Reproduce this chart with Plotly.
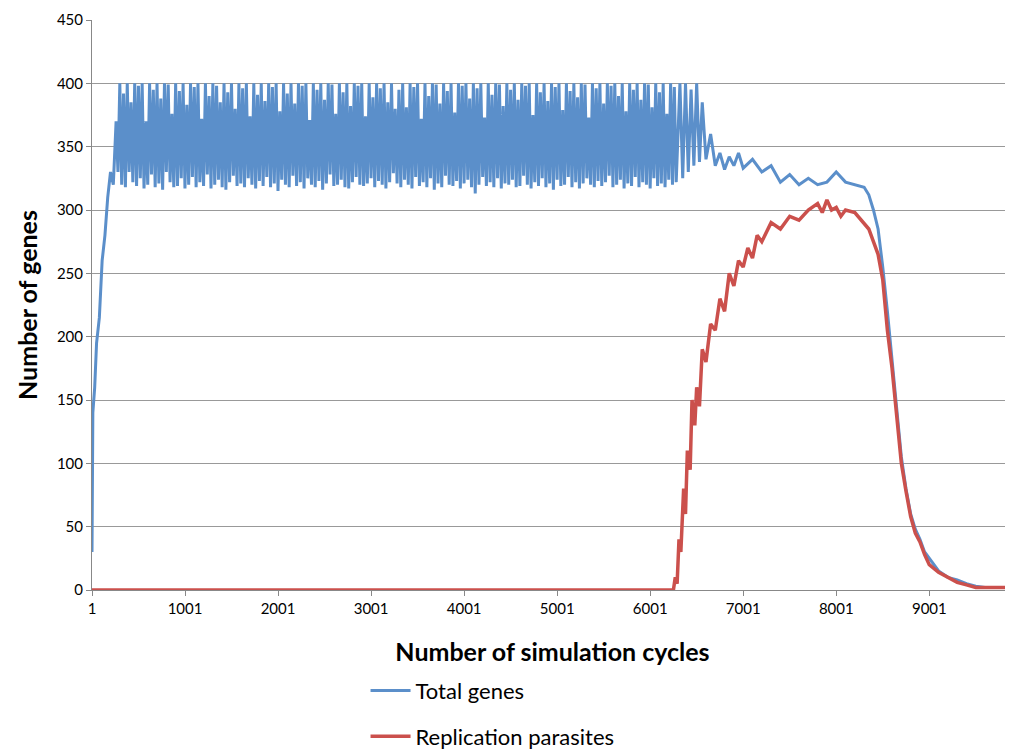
import plotly.graph_objects as go

# ramp up of total genes
rise_x = [1, 10, 30, 50, 80, 110, 140, 170, 200, 230, 260, 280]
rise_y = [30, 140, 160, 195, 215, 260, 280, 310, 330, 320, 370, 330]

# oscillating plateau, read every 20 cycles starting at 300
osc_a = [
    400, 320, 392, 318, 400, 330, 385, 322, 400, 319,
    398, 325, 400, 317, 370, 320, 400, 328, 395, 318,
    400, 321, 388, 316, 400, 330, 399, 322, 376, 318,
    400, 319, 394, 325, 400, 317, 383, 320, 400, 326,
    397, 318, 400, 322, 372, 319, 400, 328, 390, 317,
    400, 320, 398, 324, 385, 318, 400, 316, 393, 322,
    400, 327, 380, 319, 400, 321, 396, 318, 400, 325,
    374, 320, 400, 317, 391, 323, 400, 319, 386, 326,
    400, 318, 397, 321, 400, 315, 378, 324, 400, 320,
    392, 318, 400, 327, 384, 319, 400, 322, 398, 317,
    400, 325, 371, 320, 400, 318, 395, 323, 400, 316,
    387, 321, 400, 328, 399, 319, 376, 320, 400, 324,
    393, 318, 400, 317, 382, 322, 400, 326, 398, 320,
    400, 319, 374, 321, 400, 325, 389, 318, 400, 323,
    396, 320, 400, 317, 385, 322, 400, 329, 380, 321,
]
osc_b = [
    395, 318, 400, 324, 381, 320, 400, 317, 397, 326,
    400, 319, 372, 322, 400, 318, 390, 325, 400, 316,
    399, 321, 384, 318, 400, 327, 394, 320, 400, 319,
    377, 323, 400, 317, 398, 321, 400, 324, 388, 318,
    400, 313, 396, 320, 400, 326, 373, 319, 400, 322,
    391, 318, 400, 325, 399, 317, 382, 321, 400, 320,
    395, 324, 400, 318, 387, 319, 400, 327, 398, 320,
    400, 317, 375, 322, 400, 319, 393, 325, 400, 318,
    386, 321, 400, 316, 397, 324, 400, 319, 379, 320,
    400, 326, 394, 318, 400, 322, 389, 317, 400, 321,
    399, 325, 373, 320, 400, 318, 396, 323, 400, 319,
    384, 322, 400, 327, 398, 318, 400, 320, 390, 324,
    400, 317, 378, 321, 400, 319, 395, 326, 400, 318,
    387, 322, 400, 320, 399, 317, 381, 325, 400, 319,
    393, 321, 400, 318, 376, 324, 400, 320, 397, 322,
]
osc_y = osc_a + osc_b
osc_x = list(range(300, 300 + 20 * len(osc_y), 20))

# decline of total genes
fall_x = [6320, 6350, 6380, 6410, 6440, 6470, 6500, 6530, 6560, 6600, 6650, 6700,
          6750, 6800, 6850, 6900, 6950, 7000, 7100, 7200, 7300, 7400, 7500, 7600,
          7700, 7800, 7900, 8000, 8100, 8200, 8300, 8350, 8400, 8450, 8500, 8550,
          8600, 8650, 8700, 8750, 8800, 8850, 8900, 8950, 9000, 9100, 9200, 9300,
          9400, 9500, 9600, 9900]
fall_y = [400, 325, 400, 330, 395, 335, 400, 338, 385, 340, 360, 335,
          345, 332, 342, 335, 345, 333, 340, 330, 335, 322, 328, 320,
          325, 320, 322, 330, 322, 320, 318, 312, 300, 285, 255, 220,
          180, 140, 105, 80, 60, 48, 40, 30, 25, 15, 10, 8,
          5, 3, 2, 2]

total_x = rise_x + osc_x + fall_x
total_y = rise_y + osc_y + fall_y

# replication parasites
para_x = [1, 6250, 6270, 6290, 6310, 6330, 6360, 6380, 6400, 6430, 6450, 6480,
          6500, 6530, 6560, 6600, 6650, 6700, 6750, 6800, 6850, 6900, 6950, 7000,
          7050, 7100, 7150, 7200, 7300, 7400, 7500, 7600, 7700, 7800, 7850, 7900,
          7950, 8000, 8050, 8100, 8200, 8300, 8350, 8400, 8450, 8500, 8550, 8600,
          8650, 8700, 8750, 8800, 8850, 8900, 8950, 9000, 9100, 9200, 9300, 9400,
          9500, 9900]
para_y = [0, 0, 10, 5, 40, 30, 80, 60, 110, 95, 150, 130,
          160, 145, 190, 180, 210, 205, 230, 220, 250, 240, 260, 255,
          270, 262, 280, 275, 290, 285, 295, 292, 300, 305, 298, 308,
          300, 302, 295, 300, 298, 290, 285, 275, 265, 245, 205, 175,
          140, 100, 78, 58, 45, 38, 28, 20, 14, 10, 6, 4,
          2, 2]

tick_vals = [1, 1001, 2001, 3001, 4001, 5001, 6001, 7001, 8001, 9001]
y_ticks = [0, 50, 100, 150, 200, 250, 300, 350, 400, 450]

font = "Lato, 'Liberation Sans', sans-serif"

fig = go.Figure()
fig.add_trace(go.Scatter(x=total_x, y=total_y, mode="lines", name="Total genes",
                         legendgroup="a", line=dict(color="#5B8FCA", width=3)))
fig.add_trace(go.Scatter(x=para_x, y=para_y, mode="lines", name="Replication parasites",
                         legendgroup="b", line=dict(color="#CB504C", width=3.5)))

fig.update_layout(
    width=1013, height=775,
    paper_bgcolor="white", plot_bgcolor="white",
    margin=dict(l=84, r=8, t=12, b=193),
    font=dict(family=font, color="black", size=15),
    legend=dict(orientation="v", x=0.297, xanchor="left", y=-0.14, yanchor="top",
                font=dict(size=22), tracegroupgap=14, itemwidth=40),
    xaxis=dict(range=[1, 9900], tickvals=tick_vals, showgrid=False, automargin=False,
               showline=True, linecolor="#888", ticks="outside", ticklen=5,
               tickcolor="#888", zeroline=False,
               title=dict(text="<b>Number of simulation cycles</b>", font=dict(size=25),
                          standoff=27)),
    yaxis=dict(range=[0, 450], tickvals=y_ticks, showgrid=True, gridcolor="#999",
               automargin=False, showline=True, linecolor="#888", ticks="outside",
               ticklen=5, tickcolor="#888", zeroline=False,
               title=dict(text="<b>Number of genes</b>", font=dict(size=25),
                          standoff=12)),
)

fig.write_html("out.html")
